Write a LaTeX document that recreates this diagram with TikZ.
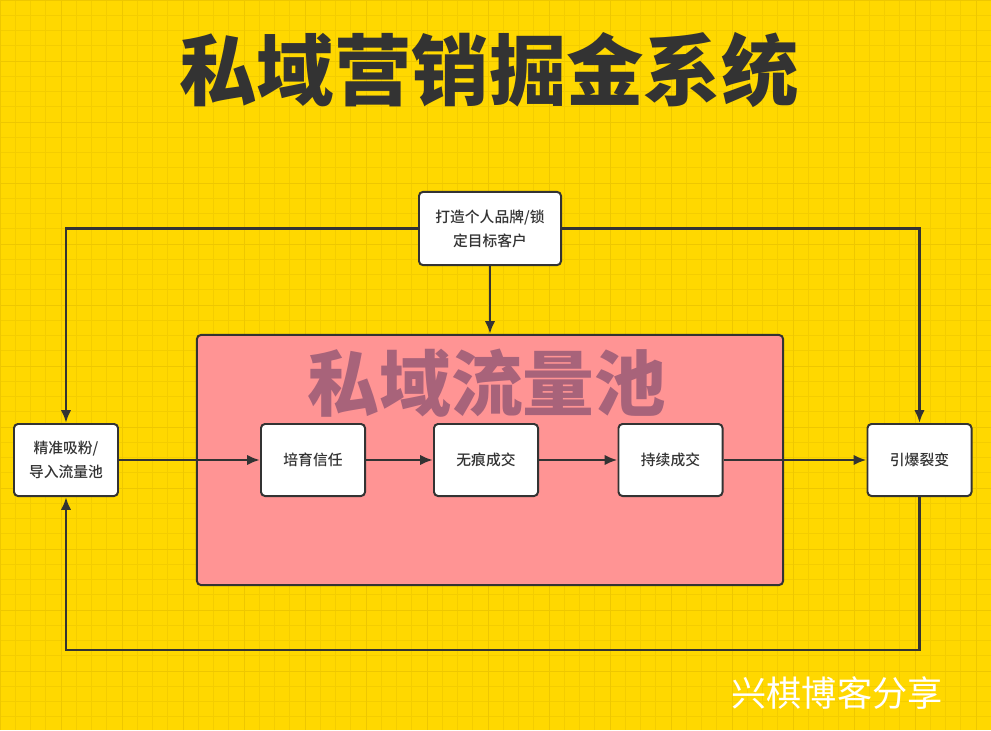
\documentclass[tikz,border=0pt]{standalone}
\usepackage{fontspec}
\usepackage{xcolor}
\usepackage{tikz}
\usetikzlibrary{arrows.meta,positioning}
\newfontfamily\cjk{Noto Sans CJK SC}
\newfontfamily\cjkheavy{Noto Sans CJK SC Black}
\newfontfamily\cjkmid{Noto Sans CJK SC Medium}
\definecolor{goldbg}{HTML}{FFD800}
\definecolor{goldgrid}{HTML}{F4CD00}
\definecolor{goldmajor}{HTML}{EEC700}
\definecolor{poolpink}{HTML}{FF9494}
\definecolor{poolmauve}{HTML}{A8637A}
\definecolor{inkgray}{HTML}{333333}

\begin{document}
\begin{tikzpicture}[
  x=0.025cm, y=-0.025cm,
  stepbox/.style={draw=inkgray, line width=1.4pt, rounded corners=1mm, fill=white, minimum width=2.6cm, minimum height=1.8cm, align=center, text=inkgray, font=\cjkmid\fontsize{10.5}{17}\selectfont},
  arrow/.style={-{Latex[length=3.2mm,width=2.6mm]}, line width=1.8pt, draw=inkgray}
]
\useasboundingbox (0,0) rectangle (991,730);
\fill[goldbg] (0,0) rectangle (991,730);
\foreach \i in {0,...,65}
  \draw[goldgrid, line width=0.6pt] ({15.25*\i},0) -- ({15.25*\i},730);
\foreach \i in {0,...,48}
  \draw[goldgrid, line width=0.6pt] (0,{15.25*\i}) -- (991,{15.25*\i});
\foreach \i in {0,...,16}
  \draw[goldmajor, line width=0.7pt] ({61*\i},0) -- ({61*\i},730);
\foreach \i in {0,...,12}
  \draw[goldmajor, line width=0.7pt] (0,{61*\i}) -- (991,{61*\i});

\node[text=inkgray, font=\cjkheavy\fontsize{55}{60}\selectfont] (title) at (489,70) {私域营销掘金系统};

\node[draw=inkgray, line width=1.4pt, rounded corners=1mm, fill=poolpink, minimum width=14.65cm, minimum height=6.25cm] (pool) at (490,460) {};
\node[text=poolmauve, font=\cjkheavy\fontsize{51}{56}\selectfont] (pooltitle) at (487,383) {私域流量池};

\node[stepbox, minimum width=3.55cm, minimum height=1.83cm] (brand) at (490,228.5) {打造个人品牌/锁\\定目标客户};
\node[stepbox] (attract) at (66,460) {精准吸粉/\\导入流量池};
\node[stepbox] (trust) at (313,460) {培育信任};
\node[stepbox] (seamless) at (486,460) {无痕成交};
\node[stepbox] (repeat) at (670.5,460) {持续成交};
\node[stepbox] (viral) at (919.5,460) {引爆裂变};

\coordinate (back) at (66,650);
\draw[arrow] (brand.west) -| (attract.north);
\draw[arrow] (brand.east) -| (viral.north);
\draw[arrow] (brand.south) -- (pool.north);
\foreach \a/\b in {attract/trust,trust/seamless,seamless/repeat,repeat/viral}
  \draw[arrow] (\a) -- (\b);
\draw[arrow] (viral.south) |- (back) -- (attract.south);

\node[text=white, font=\cjk\fontsize{25}{30}\selectfont] (mark) at (837,693) {兴棋博客分享};
\end{tikzpicture}
\end{document}
